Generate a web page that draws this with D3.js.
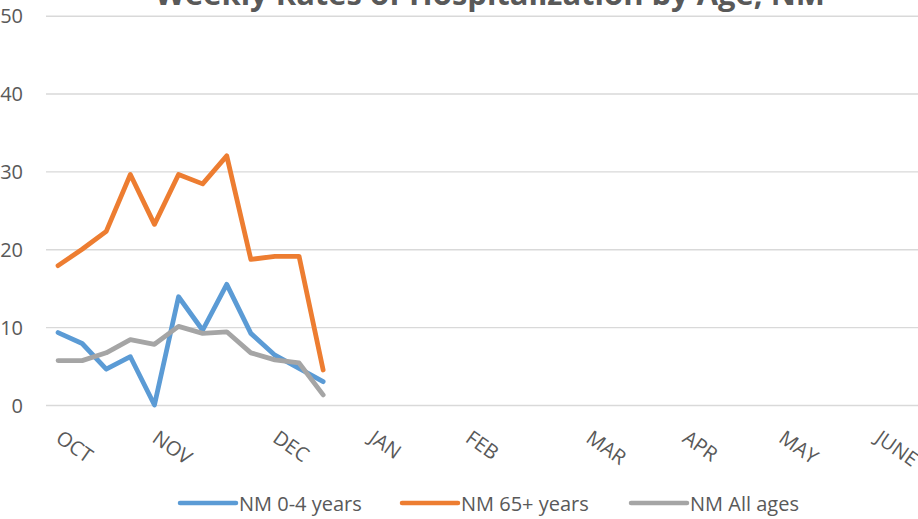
<!DOCTYPE html>
<html>
<head>
<meta charset="utf-8">
<script src="https://cdn.jsdelivr.net/npm/d3@7/dist/d3.min.js"></script>
<style>
  html, body { margin: 0; padding: 0; background: #fff; }
  svg { display: block; font-family: "Open Sans", sans-serif; }
</style>
</head>
<body>
<svg id="chart" width="918" height="519"></svg>
<script>
// ---- data ----
const title = "Weekly Rates of Hospitalization by Age, NM";
const weeks = d3.range(12); // week index from start of October
const seriesNames = ["NM 0-4 years", "NM 65+ years", "NM All ages"];
const age0to4 = [9.3, 7.9, 4.6, 6.2, 0.0, 13.9, 9.6, 15.5, 9.2, 6.4, 4.7, 3.0];
const age65plus = [17.9, 20.0, 22.3, 29.6, 23.2, 29.6, 28.4, 32.0, 18.7, 19.1, 19.1, 4.5];
const allAges = [5.7, 5.7, 6.7, 8.4, 7.8, 10.1, 9.2, 9.4, 6.7, 5.8, 5.4, 1.3];
const monthLabels = ["OCT", "NOV", "DEC", "JAN", "FEB", "MAR", "APR", "MAY", "JUNE"];
const monthWeek = [0, 4, 9, 13, 17, 22, 26, 30, 34];
const yTicks = [0, 10, 20, 30, 40, 50];

// ---- layout ----
const svg = d3.select("#chart");
const W = 918, H = 519;
const plotLeft = 46;
const band = 24.1;
const x = d3.scaleLinear().domain([-0.5, 36.5]).range([plotLeft, plotLeft + band * 37]);
const y = d3.scaleLinear().domain([0, 50]).range([405, 15.7]);
const colors = ["#5B9BD5", "#ED7D31", "#A5A5A5"];
const textColor = "#595959";

// title (mostly cut off at top)
svg.append("text")
  .attr("x", 490).attr("y", 5)
  .attr("text-anchor", "middle")
  .attr("font-size", 30).attr("font-weight", "bold")
  .attr("fill", textColor)
  .attr("textLength", 670).attr("lengthAdjust", "spacingAndGlyphs")
  .text(title);

// gridlines
const yAxis = d3.axisLeft(y).tickValues(yTicks).tickSize(-(W - plotLeft)).tickPadding(23);
const gy = svg.append("g").attr("transform", `translate(${plotLeft},0)`).call(yAxis);
gy.select(".domain").remove();
gy.selectAll(".tick line").attr("stroke", "#D9D9D9").attr("stroke-width", 1.4);
gy.selectAll(".tick text")
  .attr("font-family", "Open Sans, sans-serif")
  .attr("font-size", 20).attr("fill", textColor)
  .attr("dy", "0.36em")
  .attr("text-anchor", "end");
gy.selectAll(".tick text").attr("x", -23);

// x labels (rotated)
const xAxis = d3.axisBottom(x).tickValues(monthWeek).tickFormat((d, i) => monthLabels[i]).tickSize(0);
const gx = svg.append("g").attr("transform", `translate(0,${y(0)})`).call(xAxis);
gx.select(".domain").remove();
gx.selectAll(".tick text")
  .attr("font-family", "Open Sans, sans-serif")
  .attr("font-size", 20).attr("fill", textColor)
  .attr("text-anchor", "start")
  .attr("x", null).attr("y", null).attr("dy", null)
  .attr("transform", "translate(-4,36) rotate(35)");

// lines
const seriesData = [age0to4, age65plus, allAges];
const line = d3.line().x((d, i) => x(weeks[i])).y(d => y(d));
seriesData.forEach((vals, k) => {
  svg.append("path")
    .datum(vals)
    .attr("d", line)
    .attr("fill", "none")
    .attr("stroke", colors[k])
    .attr("stroke-width", 4.8)
    .attr("stroke-linejoin", "round")
    .attr("stroke-linecap", "round");
});

// legend
const legendX = [180, 402, 631];
const legend = svg.append("g");
seriesNames.forEach((name, k) => {
  const g = legend.append("g").attr("transform", `translate(${legendX[k]},503)`);
  g.append("line").attr("x1", 0).attr("x2", 56).attr("y1", 0).attr("y2", 0)
    .attr("stroke", colors[k]).attr("stroke-width", 4.5).attr("stroke-linecap", "round");
  g.append("text").attr("x", 59).attr("y", 7.5)
    .attr("font-size", 20).attr("fill", textColor)
    .text(name);
});
</script>
</body>
</html>
